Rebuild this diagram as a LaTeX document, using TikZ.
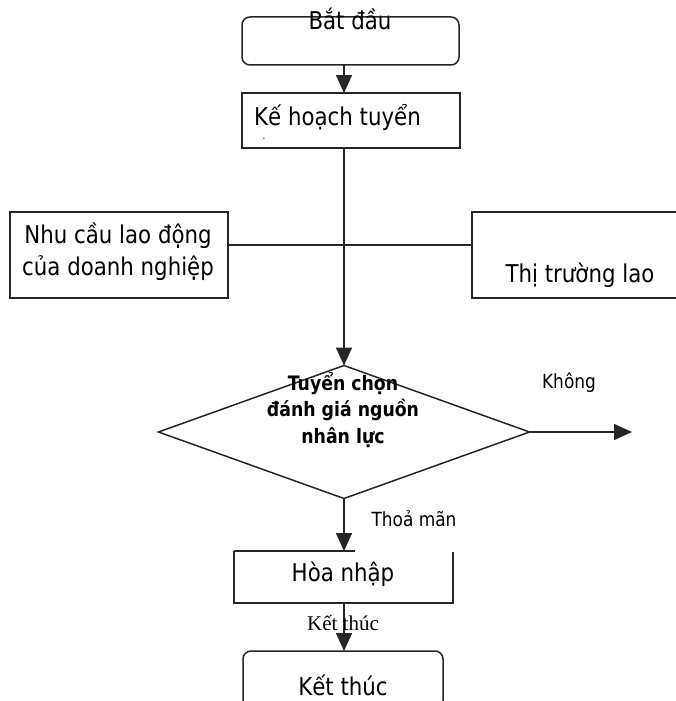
\documentclass[tikz,border=0pt]{standalone}
\usepackage{fontspec}
\setmainfont{DejaVu Sans}[FakeStretch=0.87]
\newfontfamily\serifface{Liberation Serif}
\usetikzlibrary{arrows.meta,shapes.geometric,calc}
\tikzset{
  line/.style={line width=1.5pt, draw=black!85},
  arr/.style={line, -{Triangle[width=16pt,length=18pt]}},
  boxnode/.style={inner sep=0pt, outer sep=0pt},
  bigtxt/.style={inner sep=0pt, font=\fontsize{24.5}{32}\selectfont},
  midtxt/.style={inner sep=0pt, font=\fontsize{19.5}{22}\selectfont},
  boldtxt/.style={inner sep=0pt, align=center, font=\fontsize{19.9}{26.5}\selectfont\bfseries},
  sertxt/.style={inner sep=0pt, font=\fontsize{21}{24}\selectfont\serifface},
}
\begin{document}
\begin{tikzpicture}[x=1pt,y=-1pt]
\clip (0,0) rectangle (676,701);
\fill[white] (0,0) rectangle (676,701);
\coordinate (spine) at (344,0);
\coordinate (hline) at (344,245);
% start box
\node[boxnode, line, draw, rounded corners=8pt, minimum width=217pt, minimum height=48pt] (start) at (350.5,41) {};
\node[bigtxt] (starttxt) at (350,19) {Bắt đầu};
% plan box
\node[boxnode, line, draw, minimum width=218pt, minimum height=55pt] (plan) at (351,120.5) {};
\node[bigtxt, anchor=west] (plantxt) at (254,117) {Kế hoạch tuyển};
\node[inner sep=0pt, font=\fontsize{10}{10}\selectfont] (plandot) at (264,139) {.};
% left box
\node[boxnode, line, draw, minimum width=218pt, minimum height=86pt] (need) at (119,255) {};
\node[bigtxt, align=center] (needtxt) at (118,252) {Nhu cầu lao động\\của doanh nghiệp};
% right box (open on the right)
\node[boxnode, minimum width=210pt, minimum height=86pt] (market) at (577,255) {};
\draw[line] (market.north east) -- (market.north west) -- (market.south west) -- (market.south east);
\node[bigtxt] (markettxt) at (580,275) {Thị trường lao};
% diamond
\node[boxnode, line, draw, diamond, aspect=2.79, minimum width=371pt, minimum height=133pt] (dec) at (344,432) {};
\node[boldtxt] (dectxt) at (343,410) {Tuyển chọn\\đánh giá nguồn\\nhân lực};
\coordinate (noend) at (632,432);
\node[midtxt] (notxt) at (569,383) {Không};
% integrate box (broken top border)
\node[boxnode, minimum width=219pt, minimum height=52pt] (hoa) at (343.5,577) {};
\draw[line] (hoa.north west) -- ($(hoa.north west)+(121,0)$);
\draw[line] ($(hoa.north east)+(0,1)$) -- (hoa.south east) -- (hoa.south west) -- (hoa.north west);
\node[bigtxt] (hoatxt) at (343,574) {Hòa nhập};
\node[midtxt] (oktxt) at (414,519) {Thoả mãn};
% end box
\node[boxnode, line, draw, rounded corners=8pt, minimum width=200pt, minimum height=58pt] (finish) at (343,680) {};
\node[bigtxt] (finishtxt) at (343,685) {Kết thúc};
% connectors
\draw[arr] (start.south -| spine) -- (plan.north -| spine);
\draw[arr] (plan.south -| spine) -- (dec.north);
\draw[line] (need.east |- hline) -- (market.west |- hline);
\draw[arr] (dec.east) -- (noend);
\draw[arr] (dec.south) -- (hoa.north -| spine);
\draw[arr] (hoa.south -| spine) -- (finish.north -| spine);
\node[sertxt] (endlabel) at (343,623) {Kết thúc};
\end{tikzpicture}
\end{document}
